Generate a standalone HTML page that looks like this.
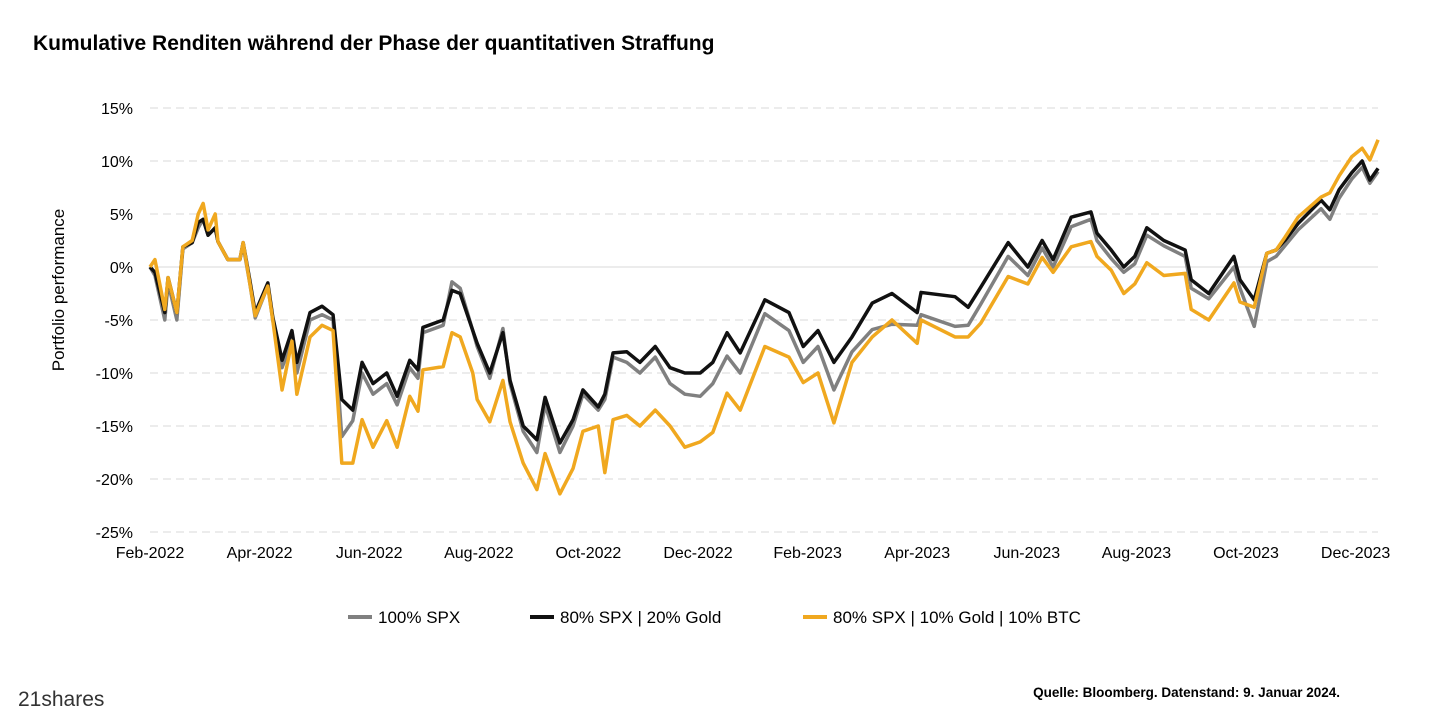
<!DOCTYPE html>
<html><head><meta charset="utf-8"><style>
body{margin:0;background:#fff;width:1440px;height:720px;overflow:hidden;font-family:"Liberation Sans",sans-serif}
</style></head><body>
<svg width="1440" height="720">
<text x="33" y="50" font-size="21" font-weight="bold" fill="#000">Kumulative Renditen während der Phase der quantitativen Straffung</text>
<g id="grid"></g>
<g id="yt"></g>
<g id="xt"></g>
<text transform="translate(64,290) rotate(-90)" text-anchor="middle" font-size="17" fill="#000">Portfolio performance</text>
<g id="lines"></g>
<g>
<g><line x1="348" y1="617" x2="372" y2="617" stroke="#808080" stroke-width="4"/><text x="378" y="623" font-size="17">100% SPX</text></g>
<g><line x1="530" y1="617" x2="554" y2="617" stroke="#111" stroke-width="4"/><text x="560" y="623" font-size="17">80% SPX | 20% Gold</text></g>
<g><line x1="803" y1="617" x2="827" y2="617" stroke="#F0A81F" stroke-width="4"/><text x="833" y="623" font-size="17">80% SPX | 10% Gold | 10% BTC</text></g>
</g>
<text x="1340" y="697" text-anchor="end" font-size="13.5" font-weight="bold">Quelle: Bloomberg. Datenstand: 9. Januar 2024.</text>
<text x="18" y="706" font-size="21" fill="#333">21shares</text>
</svg>
<script>
const yTicks=[15,10,5,0,-5,-10,-15,-20,-25];
const xLabels=["Feb-2022","Apr-2022","Jun-2022","Aug-2022","Oct-2022","Dec-2022","Feb-2023","Apr-2023","Jun-2023","Aug-2023","Oct-2023","Dec-2023"];
const months=[0,.09,.27,.33,.49,.60,.77,.88,.97,1.06,1.19,1.24,1.42,1.64,1.70,1.82,1.92,2.15,2.24,2.41,2.59,2.68,2.92,3.14,3.34,3.50,3.70,3.87,4.07,4.32,4.51,4.74,4.89,4.98,5.35,5.51,5.66,5.89,5.97,6.20,6.44,6.57,6.81,7.06,7.21,7.48,7.72,7.90,8.18,8.30,8.45,8.70,8.94,9.22,9.49,9.76,10.04,10.27,10.53,10.77,11.22,11.66,11.92,12.19,12.48,12.81,13.18,13.54,14.00,14.07,14.69,14.93,15.16,15.66,16.02,16.28,16.48,16.81,17.17,17.28,17.54,17.77,17.97,18.19,18.50,18.89,19.00,19.32,19.78,19.89,20.15,20.38,20.55,20.71,20.95,21.37,21.53,21.70,21.93,22.12,22.26,22.41];
const gold=[0,-0.5,-4.3,-1,-4.3,1.9,2.3,4.2,4.5,3,3.7,2.4,0.7,0.7,2.3,-1.2,-4.3,-1.5,-4.7,-8.8,-6,-9,-4.3,-3.7,-4.5,-12.5,-13.5,-9,-11,-10,-12.2,-8.8,-9.7,-5.7,-5,-2.2,-2.5,-6,-7.2,-10,-6.2,-10.7,-15,-16.3,-12.3,-16.6,-14.4,-11.6,-13.2,-12,-8.1,-8,-9,-7.5,-9.5,-10,-10,-9,-6.2,-8.1,-3.1,-4.3,-7.5,-6,-9,-6.6,-3.4,-2.5,-4.3,-2.4,-2.8,-3.8,-1.9,2.3,0,2.5,0.7,4.7,5.2,3.2,1.6,0,1,3.7,2.5,1.6,-1.2,-2.5,1,-1.2,-3.1,1.3,1.6,2.5,4.1,6.3,5.4,7.3,8.9,10,8.2,9.3];
const spx=[0,-0.8,-5,-1.5,-5,1.7,2.3,3.7,4.5,3,3.7,2.4,0.7,0.7,2,-1.5,-4.8,-1.8,-5,-9.5,-7,-10,-5,-4.5,-5,-16,-14.5,-10,-12,-11,-13,-9.5,-10.5,-6.2,-5.5,-1.4,-2,-6,-7.5,-10.5,-5.8,-11,-15.5,-17.5,-13,-17.5,-15,-12,-13.5,-12.5,-8.5,-9,-10,-8.5,-11,-12,-12.2,-11,-8.4,-10,-4.4,-6,-9,-7.5,-11.6,-8,-5.9,-5.4,-5.5,-4.5,-5.6,-5.5,-3.5,1,-0.8,1.8,0,3.8,4.5,2.5,0.8,-0.5,0.3,3,2,1,-2,-3,0,-2,-5.6,0.5,1,2,3.5,5.5,4.5,6.5,8.3,9.4,7.9,9];
const btc=[0,0.7,-4,-1,-4.3,1.9,2.5,5,6,3.5,5,2.4,0.7,0.7,2.3,-1.5,-4.6,-1.8,-5,-11.6,-7,-12,-6.6,-5.5,-6,-18.5,-18.5,-14.4,-17,-14.5,-17,-12.2,-13.6,-9.7,-9.4,-6.2,-6.6,-10,-12.5,-14.6,-10.7,-14.6,-18.5,-21,-17.6,-21.4,-19,-15.5,-15,-19.4,-14.4,-14,-15,-13.5,-15,-17,-16.5,-15.6,-11.9,-13.5,-7.5,-8.5,-10.9,-10,-14.7,-9,-6.6,-5,-7.2,-5,-6.6,-6.6,-5.3,-0.9,-1.6,0.9,-0.5,1.9,2.4,1,-0.3,-2.5,-1.6,0.4,-0.8,-0.6,-4,-5,-1.5,-3.3,-3.8,1.3,1.6,2.8,4.7,6.6,7,8.6,10.4,11.2,10.1,12];
const NS="http://www.w3.org/2000/svg";
const X0=150,PX=54.8,Y0=267,PY=10.6;
const xs=m=>X0+m*PX, ys=v=>Y0-v*PY;
function mk(t,a){const e=document.createElementNS(NS,t);for(const k in a)e.setAttribute(k,a[k]);return e;}
const grid=document.getElementById('grid'),yt=document.getElementById('yt'),xt=document.getElementById('xt'),lines=document.getElementById('lines');
yTicks.forEach(v=>{
 const l=mk('line',{x1:150,x2:1378,y1:ys(v),y2:ys(v),stroke:'#d9d9d9','stroke-width':1});
 if(v!==0)l.setAttribute('stroke-dasharray','8,5');
 
 
 grid.appendChild(l);
 const t=mk('text',{x:133,y:ys(v)+6,'text-anchor':'end','font-size':16});
 t.textContent=v+'%';
 
 
 yt.appendChild(t);
});
xLabels.forEach((s,i)=>{
 const t=mk('text',{x:xs(i*2),y:558,'text-anchor':'middle','font-size':16});
 t.textContent=s;
 
 
 xt.appendChild(t);
});
[[spx,'#808080','line-spx'],[gold,'#111111','line-spx-gold'],[btc,'#F0A81F','line-spx-gold-btc']].forEach(([d,c,n])=>{
 const p=mk('polyline',{points:d.map((v,i)=>xs(months[i])+','+ys(v)).join(' '),fill:'none',stroke:c,'stroke-width':3.5,'stroke-linejoin':'round'});
 
 
 lines.appendChild(p);
});
</script>
</body></html>
